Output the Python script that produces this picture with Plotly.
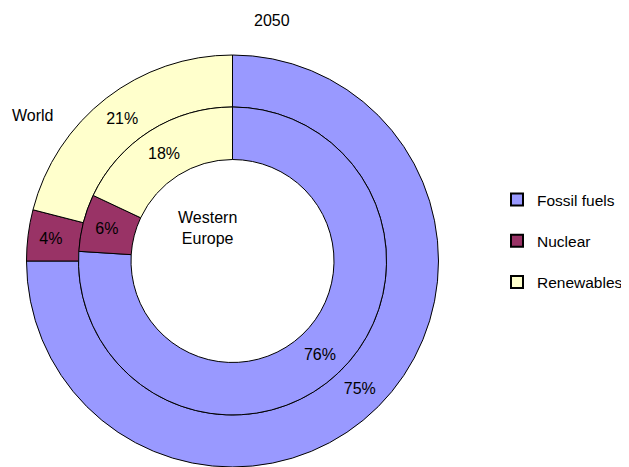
import plotly.graph_objects as go

categories = ["Fossil fuels", "Nuclear", "Renewables"]
world_values = [75, 4, 21]
western_europe_values = [76, 6, 18]
colors = ["#9999FF", "#993366", "#FFFFCC"]
title_text = "2050"

OFF = 8                      # browser default body margin
W, H = 629 - OFF, 467 - OFF  # figure size so the page fits the window
cx, cy = 232.5 - OFF, 261.0 - OFF   # pie centre in figure pixels (from top)
R_out, R_mid, R_in = 206.0, 154.0, 101.5

def dom(r):
    return dict(x=[max(0, (cx - r) / W), min(1, (cx + r) / W)],
                y=[max(0, (H - cy - r) / H), min(1, (H - cy + r) / H)])

def px(x, y):
    return (x - OFF) / W, 1 - (y - OFF) / H

font = dict(family="Liberation Sans, Arial, sans-serif", size=16, color="#000000")
legend_font = dict(family="Liberation Sans, Arial, sans-serif", size=15.5, color="#000000")

fig = go.Figure()
fig.add_trace(go.Pie(
    labels=categories, values=world_values, sort=False, direction="clockwise",
    rotation=0, hole=R_mid / R_out, domain=dom(R_out),
    marker=dict(colors=colors, line=dict(color="#000000", width=1)),
    texttemplate="%{value}%", textposition="inside",
    insidetextorientation="horizontal", textfont=font, showlegend=False,
    hoverinfo="label+value",
))
fig.add_trace(go.Pie(
    labels=categories, values=western_europe_values, sort=False, direction="clockwise",
    rotation=0, hole=R_in / R_mid, domain=dom(R_mid),
    marker=dict(colors=colors, line=dict(color="#000000", width=1)),
    texttemplate="%{value}%", textposition="inside",
    insidetextorientation="horizontal", textfont=font, showlegend=False,
    hoverinfo="label+value",
))
for c, col in zip(categories, colors):
    fig.add_trace(go.Scatter(
        x=[None], y=[None], mode="markers", name=c, legendgroup=c,
        marker=dict(symbol="square", size=11, color=col, line=dict(color="#000000", width=1)),
    ))

lx, ly = px(497, 183)
tx, ty = px(272, 20)
wx, wy = px(10, 115)
ex, ey = px(207, 228)
fig.update_layout(
    width=W, height=H, margin=dict(l=0, r=0, t=0, b=0, autoexpand=False),
    paper_bgcolor="#FFFFFF", plot_bgcolor="#FFFFFF",
    xaxis=dict(visible=False), yaxis=dict(visible=False),
    font=font,
    legend=dict(x=lx, y=ly, xanchor="left", yanchor="top",
                tracegroupgap=18, font=legend_font, bgcolor="rgba(0,0,0,0)",
                itemsizing="constant"),
    annotations=[
        dict(text=title_text, x=tx, y=ty, xref="paper", yref="paper",
             showarrow=False, xanchor="center", yanchor="middle", font=font),
        dict(text="World", x=wx, y=wy, xref="paper", yref="paper",
             showarrow=False, xanchor="left", yanchor="middle", font=font),
        dict(text="Western<br>Europe", x=ex, y=ey, xref="paper", yref="paper",
             showarrow=False, xanchor="center", yanchor="middle", font=font),
    ],
)
fig.write_html("out.html")
